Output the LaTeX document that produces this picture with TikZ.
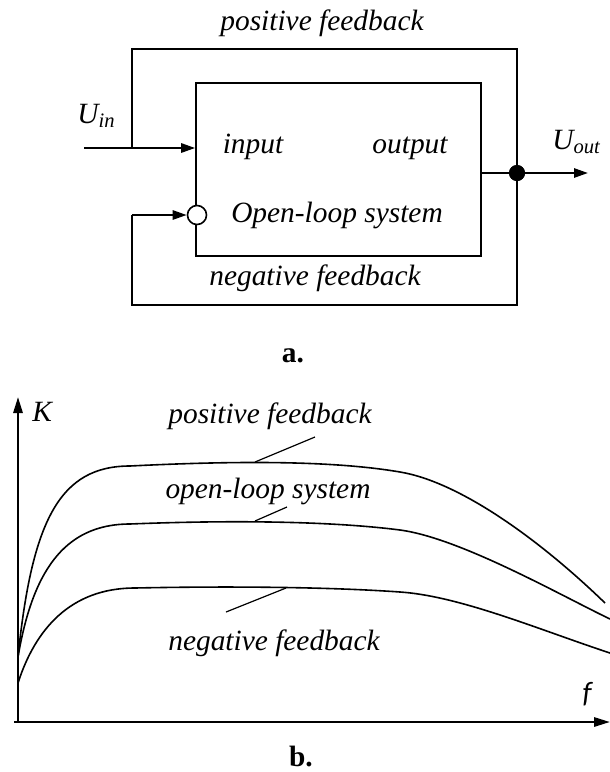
\documentclass[tikz,border=0pt]{standalone}
\usepackage{fontspec}
\setmainfont{Liberation Serif}
\newfontfamily\fsans{Carlito}
\usetikzlibrary{arrows.meta}

\tikzset{
  wire/.style={line width=1pt},
  sig/.style={line width=1.1pt,-{Triangle[length=7pt,width=4.6pt]}},
  axis/.style={line width=1.2pt,-{Triangle[length=8pt,width=4.6pt]}},
  lbl/.style={inner sep=0pt,anchor=base,font=\fontsize{14.7}{17}\selectfont\itshape},
  tag/.style={inner sep=0pt,anchor=base,font=\fontsize{14.7}{17}\selectfont\bfseries},
  curve/.style={line width=0.8pt},
  lead/.style={line width=0.6pt}
}

\begin{document}
\begin{tikzpicture}[x=0.5pt,y=-0.5pt]
\useasboundingbox (0,0) rectangle (610,772);

% a. block diagram
\node[draw,line width=0.8pt,minimum width=142.5pt,minimum height=86.5pt,inner sep=0pt] (sys) at (338.5,169.5) {};
\node[circle,draw,fill=white,line width=0.8pt,minimum size=9.5pt,inner sep=0pt] (sum) at (197,215) {};
\node[circle,fill,minimum size=8pt,inner sep=0pt] (dot) at (517,173) {};
\coordinate (src) at (84,148);
\coordinate (jin) at (132,148);
\coordinate (sink) at (588,173);
\coordinate (ptop) at (132,49);
\coordinate (nbot) at (132,305);

\draw[sig] (src) -- (sys.west |- src);
\draw[wire] (dot.center) |- (ptop) -- (jin);
\draw[wire] (dot.center) |- (nbot) -- (nbot |- sum);
\draw[sig] (nbot |- sum) -- (sum.west);
\draw[sig] (sys.east |- dot) -- (sink);
\node[circle,fill,minimum size=8pt,inner sep=0pt] (dotcap) at (dot) {};

\node[lbl] (pfb) at (322,30) {positive feedback};
\node[lbl] (nfb) at (315,285) {negative feedback};
\node[lbl] (inp) at (253,153) {input};
\node[lbl] (outp) at (410,153) {output};
\node[lbl] (ols) at (337,222) {Open-loop system};
\node[lbl,anchor=base west] (uin) at (77,123) {U\textsubscript{in}};
\node[lbl,anchor=base west] (uout) at (552,149) {U\textsubscript{out}};
\node[tag] (capa) at (293,362) {a.};

% b. frequency response
\coordinate (org) at (18,722);
\coordinate (ktop) at (18,397);
\coordinate (xl) at (14,722);
\coordinate (xr) at (610,722);
\draw[axis] (org) -- (ktop);
\draw[axis] (xl) -- (xr);
\node[lbl,anchor=base west] (kax) at (32,421) {K};
\node[inner sep=0pt,anchor=base,font=\fontsize{14.7}{17}\selectfont\fsans\itshape] (fax) at (587,702) {f};

\draw[curve] (18,657) .. controls (32,520) and (60,466) .. (130,466)
  .. controls (230,461) and (330,460) .. (400,472)
  .. controls (460,482) and (540,540) .. (605,603);
\draw[curve] (18,657) .. controls (32,575) and (62,524) .. (130,524)
  .. controls (230,520) and (330,521) .. (400,530)
  .. controls (460,538) and (560,595) .. (610,619);
\draw[curve] (18,683) .. controls (35,630) and (70,588) .. (135,588)
  .. controls (230,586) and (330,587) .. (400,592)
  .. controls (460,596) and (540,630) .. (610,653);

\node[lbl] (lpos) at (270,423) {positive feedback};
\node[lbl] (lopen) at (268,498) {open-loop system};
\node[lbl] (lneg) at (274,650) {negative feedback};
\coordinate (tpos) at (315,437);
\coordinate (topen) at (287,507);
\coordinate (tneg) at (226,612);
\coordinate (cpos) at (255,462);
\coordinate (copen) at (255,521);
\coordinate (cneg) at (286,588);
\draw[lead] (tpos) -- (cpos);
\draw[lead] (topen) -- (copen);
\draw[lead] (tneg) -- (cneg);

\node[tag] (capb) at (301,766) {b.};
\end{tikzpicture}
\end{document}
